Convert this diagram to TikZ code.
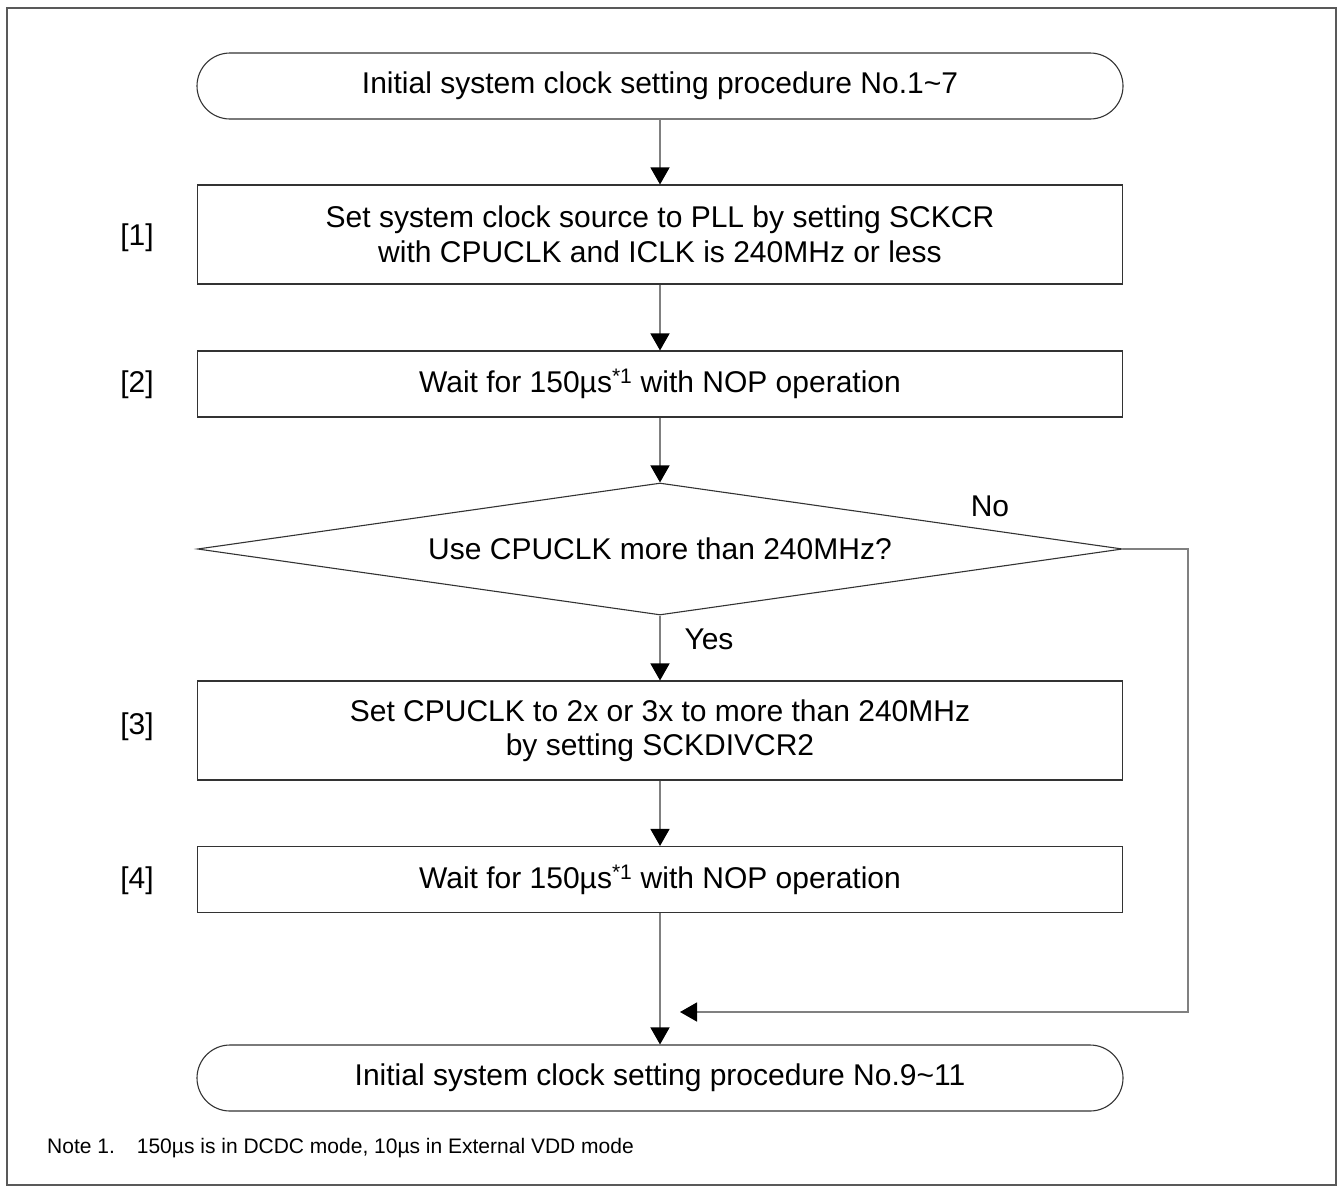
\documentclass[tikz,border=0pt]{standalone}
\usepackage{fontspec}
\setmainfont{Liberation Sans}
\usetikzlibrary{arrows.meta,shapes.geometric}
\begin{document}
\begin{tikzpicture}[x=1pt,y=-1pt,
  every node/.style={font=\fontsize{30}{34.5}\selectfont},
  termbox/.style={draw=black!80, line width=1.1pt, rounded corners=33pt, minimum width=926pt, minimum height=66pt, inner sep=0pt},
  procbox/.style={draw=black!80, line width=1.1pt, minimum width=925pt, inner sep=0pt, align=center},
  decbox/.style={draw=black!80, line width=1.1pt, diamond, aspect=7, minimum width=925pt, minimum height=132pt, inner sep=0pt},
  flow/.style={draw=black!50, line width=1.4pt, -{Triangle[width=19pt,length=17pt,fill=black,color=black]}},
  steplabel/.style={anchor=center},
  notetext/.style={font=\fontsize{21}{25}\selectfont, anchor=base west, inner sep=0pt}
]
\useasboundingbox (0,0) rectangle (1341,1192);
\draw[draw=black!65, line width=2pt] (7,8) rectangle (1336,1185);

\node[termbox] (t1) at (660,86) {\raisebox{-2pt}{Initial system clock setting procedure No.1\textasciitilde 7}};
\node[procbox, minimum height=99pt] (b1) at (660,234.5) {Set system clock source to PLL by setting SCKCR\\with CPUCLK and ICLK is 240MHz or less};
\node[procbox, minimum height=66pt] (b2) at (660,384) {Wait for 150µs\textsuperscript{*1} with NOP operation};
\node[decbox] (d1) at (660,549) {Use CPUCLK more than 240MHz?};
\node[procbox, minimum height=99pt] (b3) at (660,730.5) {Set CPUCLK to 2x or 3x to more than 240MHz\\by setting SCKDIVCR2};
\node[procbox, minimum height=66pt] (b4) at (660,879.5) {Wait for 150µs\textsuperscript{*1} with NOP operation};
\node[termbox] (t2) at (660,1078) {\raisebox{-2pt}{Initial system clock setting procedure No.9\textasciitilde 11}};

\node[steplabel] (l1) at (137,238) {[1]};
\node[steplabel] (l2) at (137,385) {[2]};
\node[steplabel] (l3) at (137,727) {[3]};
\node[steplabel] (l4) at (137,881) {[4]};

\node (no) at (990,506) {No};
\node (yes) at (709,639) {Yes};

\coordinate (fbend) at (680,1012);

\draw[flow] (t1.south) -- (b1.north);
\draw[flow] (b1.south) -- (b2.north);
\draw[flow] (b2.south) -- (d1.north);
\draw[flow] (d1.south) -- (b3.north);
\draw[flow] (b3.south) -- (b4.north);
\draw[flow] (b4.south) -- (t2.north);
\draw[flow] (d1.east) -- (1188,549) -- (1188,1012) -- (fbend);

\node[notetext] (note) at (47,1153) {Note 1.\hspace{22pt}150µs is in DCDC mode, 10µs in External VDD mode};
\end{tikzpicture}
\end{document}
